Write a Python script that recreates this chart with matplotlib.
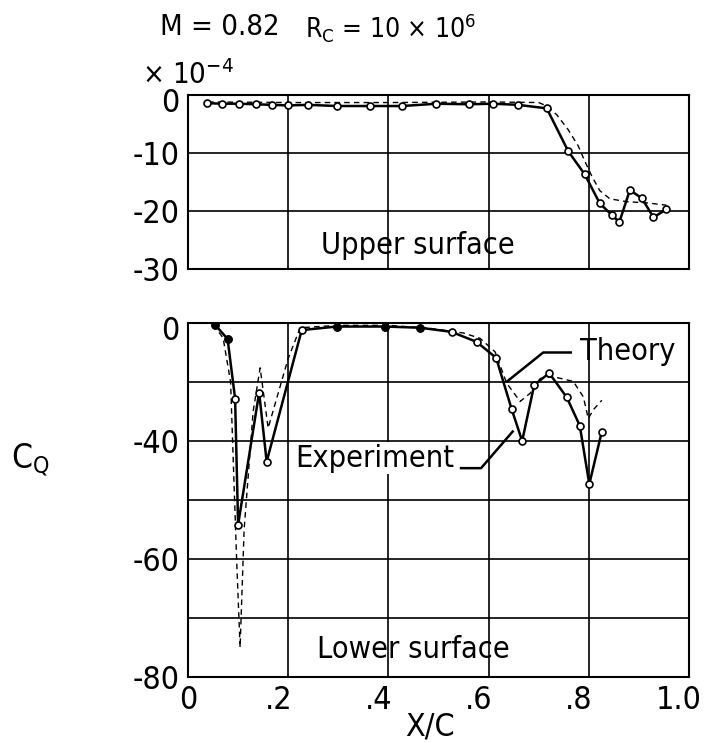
import matplotlib.pyplot as plt
import matplotlib.transforms as mtransforms
import numpy as np

plt.rcParams['font.family'] = ['DejaVu Sans']
plt.rcParams['font.stretch'] = 'condensed'
plt.rcParams['mathtext.fontset'] = 'custom'
plt.rcParams['mathtext.rm'] = 'DejaVu Sans:stretch=condensed'
plt.rcParams['mathtext.it'] = 'DejaVu Sans:stretch=condensed'

# Superficie superior: experimento
xu_exp = [0.037, 0.067, 0.102, 0.136, 0.167, 0.200, 0.240, 0.297, 0.363, 0.428, 0.496, 0.561,
          0.609, 0.659, 0.716, 0.759, 0.792, 0.822, 0.846, 0.861, 0.882, 0.906, 0.929, 0.955]
yu_exp = [-1.4, -1.5, -1.5, -1.6, -1.7, -1.8, -1.7, -1.9, -1.9, -1.9, -1.5, -1.6,
          -1.5, -1.7, -2.3, -9.7, -13.7, -18.7, -20.7, -21.9, -16.4, -17.8, -21.1, -19.7]
# Superficie superior: teoria
xu_teo = [0.04, 0.2, 0.4, 0.6, 0.70, 0.716, 0.736, 0.759, 0.779, 0.792, 0.806, 0.822, 0.842, 0.876, 0.916, 0.955]
yu_teo = [-1.2, -1.3, -1.3, -1.2, -1.3, -1.9, -3.4, -6.0, -8.8, -11.4, -14.0, -16.5, -17.9, -18.4, -18.6, -19.0]

# Superficie inferior: experimento
xl_exp = [0.054, 0.079, 0.094, 0.100, 0.142, 0.157, 0.227, 0.297, 0.393, 0.463, 0.526, 0.576,
          0.615, 0.646, 0.667, 0.691, 0.721, 0.756, 0.782, 0.801, 0.826]
yl_exp = [-0.3, -2.7, -12.8, -34.2, -11.8, -23.5, -1.2, -0.6, -0.6, -0.8, -1.5, -3.2,
          -5.9, -14.6, -20.0, -10.5, -8.5, -12.6, -17.4, -27.3, -18.4]
lleno = [0, 1, 7, 8, 9]   # puntos que se ven rellenos
# Superficie inferior: teoria
xl_teo = [0.05, 0.07, 0.085, 0.097, 0.104, 0.112, 0.13, 0.144, 0.16, 0.20, 0.224, 0.30, 0.40, 0.483,
          0.55, 0.583, 0.613, 0.636, 0.663, 0.683, 0.703, 0.729, 0.769, 0.789, 0.799, 0.809, 0.826]
yl_teo = [-0.3, -2.5, -10, -40, -55, -35, -15, -7.6, -17.8, -6.0, -0.8, -0.4, -0.4, -0.9,
          -1.7, -2.6, -4.9, -10.2, -13.3, -11.9, -9.4, -9.1, -9.9, -12.5, -16.2, -14.7, -13.1]

xticks = [0, 0.2, 0.4, 0.6, 0.8, 1.0]
xticklabels = ["0", ".2", ".4", ".6", ".8", "1.0"]
yticks_u = [0, -10, -20, -30]
yticklabels_u = ["0", "-10", "-20", "-30"]
yticks_l = [0, -10, -20, -30, -40, -50, -60]
yticklabels_l = ["0", "", "-40", "", "-60", "", "-80"]

fs = 22

fig = plt.figure(figsize=(7.04, 7.43), dpi=100)
ax1 = fig.add_axes([188/704, 1 - 269/743, 501/704, 174/743])
ax2 = fig.add_axes([188/704, 1 - 677/743, 501/704, 354/743])

for ax in (ax1, ax2):
    ax.set_xlim(0, 1)
    ax.set_xticks(xticks)
    ax.grid(color='black', lw=1.2)
    ax.set_axisbelow(True)
    ax.tick_params(length=0, labelsize=23, pad=6)
    for s in ax.spines.values():
        s.set_linewidth(1.5)

# superior
ax1.set_ylim(-30, 0)
ax1.set_yticks(yticks_u)
ax1.set_yticklabels(yticklabels_u)
ax1.set_xticklabels([])
ax1.plot(xu_teo, yu_teo, color='black', lw=1, ls=(0, (4, 3)))
ax1.plot(xu_exp, yu_exp, color='black', lw=1.8, marker='o', ms=5,
         mfc='white', mec='black', mew=1.2)
ax1.text(0.458, -26, "Upper surface", fontsize=fs, ha='center', va='center')

# inferior
ax2.set_ylim(-60, 0)
ax2.set_yticks(yticks_l)
ax2.set_yticklabels(yticklabels_l)
ax2.set_xticklabels(xticklabels)
desplaza = mtransforms.ScaledTranslation(-0.1, 0, fig.dpi_scale_trans)
for lab in ax2.get_xticklabels()[1:]:
    lab.set_transform(lab.get_transform() + desplaza)
baja = mtransforms.ScaledTranslation(0, -0.05, fig.dpi_scale_trans)
for ax in (ax1, ax2):
    lab = ax.get_yticklabels()[0]
    lab.set_transform(lab.get_transform() + baja)
ax2.plot(xl_teo, yl_teo, color='black', lw=1, ls=(0, (4, 3)))
ax2.plot(xl_exp, yl_exp, color='black', lw=1.8, marker='o', ms=5,
         mfc='white', mec='black', mew=1.2)
ax2.plot([xl_exp[i] for i in lleno], [yl_exp[i] for i in lleno], ls='none',
         marker='o', ms=5, color='black')
ax2.text(0.449, -55.4, "Lower surface", fontsize=fs, ha='center', va='center')
ax2.text(0.782, -4.9, "Theory", fontsize=fs, ha='left', va='center')
ax2.plot([0.637, 0.709, 0.764], [-9.9, -5.0, -5.0], color='black', lw=1.8)
ax2.text(0.214, -22.9, "Experiment", fontsize=fs, ha='left', va='center',
         bbox=dict(facecolor='white', edgecolor='none', pad=1))
ax2.plot([0.545, 0.585, 0.648], [-24.6, -24.6, -18.4], color='black', lw=1.8)

# textos de la figura
fig.text(220/704, 1 - 27/743, "M = 0.82", fontsize=21, ha='center', va='center')
fig.text(391/704, 1 - 27/743, r"R$_\mathregular{C}$ = 10 × 10$^\mathregular{6}$", fontsize=19,
         ha='center', va='center')
fig.text(142/704, 1 - 84/743, r"× 10$^\mathregular{-4}$", fontsize=21,
         ha='left', va='baseline')
fig.text(30/704, 1 - 460/743, r"C$_\mathregular{Q}$", fontsize=24, ha='center', va='center')
fig.text(430/704, 1 - 727/743, "X/C", fontsize=23, ha='center', va='center')

fig.savefig("out.png", dpi=100)
